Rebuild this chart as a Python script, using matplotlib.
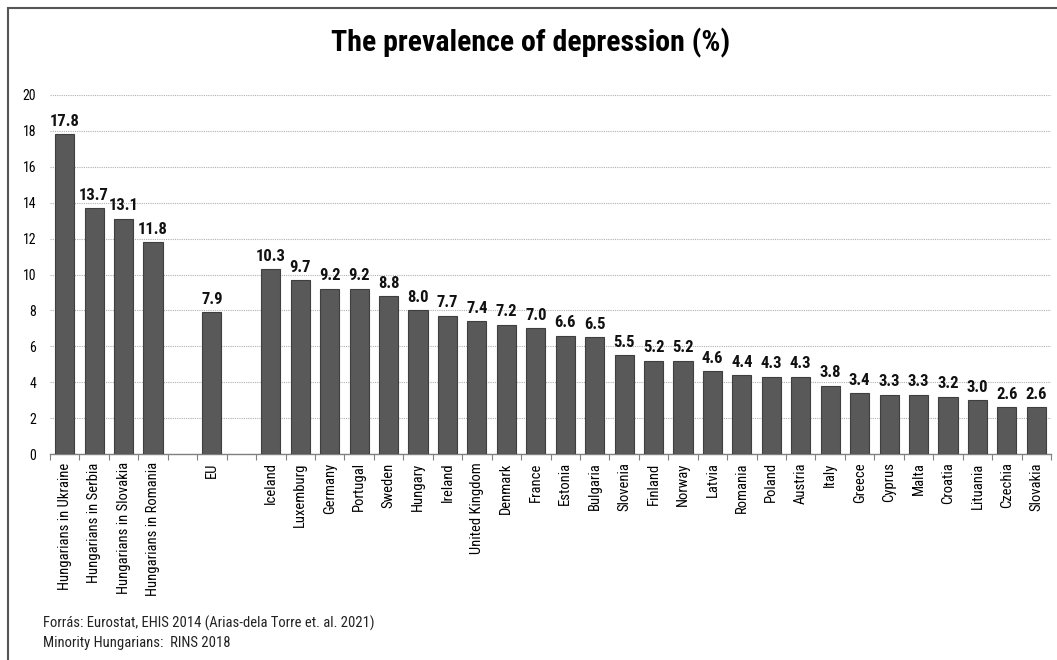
import numpy as np
import matplotlib.pyplot as plt
from matplotlib.patches import Rectangle
from matplotlib.ticker import FixedLocator

plt.rcParams['font.family'] = ['Roboto Condensed', 'DejaVu Sans']

# groups: minority Hungarians, EU average, countries (blank slots separate them)
minority = ['Hungarians in Ukraine', 'Hungarians in Serbia',
            'Hungarians in Slovakia', 'Hungarians in Romania']
minority_vals = [17.8, 13.7, 13.1, 11.8]
eu_label = ['EU']
eu_vals = [7.9]
countries = ['Iceland', 'Luxemburg', 'Germany', 'Portugal', 'Sweden', 'Hungary',
             'Ireland', 'United Kingdom', 'Denmark', 'France', 'Estonia', 'Bulgaria',
             'Slovenia', 'Finland', 'Norway', 'Latvia', 'Romania', 'Poland', 'Austria',
             'Italy', 'Greece', 'Cyprus', 'Malta', 'Croatia', 'Lituania', 'Czechia',
             'Slovakia']
country_vals = [10.3, 9.7, 9.2, 9.2, 8.8, 8.0, 7.7, 7.4, 7.2, 7.0, 6.6, 6.5,
                5.5, 5.2, 5.2, 4.6, 4.4, 4.3, 4.3, 3.8, 3.4, 3.3, 3.3, 3.2,
                3.0, 2.6, 2.6]

labels = minority + [''] + eu_label + [''] + countries
values = minority_vals + [None] + eu_vals + [None] + country_vals
x = np.arange(len(labels))

fig = plt.figure(figsize=(10.57, 6.6), dpi=100)
ax = fig.add_axes([50 / 1057, 1 - 454 / 660, 1001 / 1057, 359 / 660])

bx = [i for i, v in zip(x, values) if v is not None]
bv = [v for v in values if v is not None]
ax.bar(bx, bv, width=0.65, color='#595959', edgecolor='#3f3f3f', linewidth=0.8, zorder=3)

for xi, v in zip(bx, bv):
    ax.text(xi, v + 0.3, f'{v:.1f}', ha='center', va='bottom',
            fontsize=12, fontweight='bold', color='#111111')

ax.set_xlim(-0.5, len(labels) - 0.5)
ax.set_ylim(0, 20)
ax.set_yticks(np.arange(0, 21, 2))
ax.yaxis.grid(True, linestyle=(0, (1, 1)), color='#b0b0b0', linewidth=0.8, zorder=0)
ax.tick_params(axis='y', length=0, labelsize=10, pad=10)

ax.set_xticks(x)
ax.set_xticklabels(labels, rotation=90, fontsize=10.5)
ax.tick_params(axis='x', which='major', length=0, pad=6)
ax.xaxis.set_minor_locator(FixedLocator(np.arange(-0.5, len(labels), 1)))
ax.tick_params(axis='x', which='minor', length=4, color='#808080', width=0.8)

for s in ['top', 'right', 'left']:
    ax.spines[s].set_visible(False)
ax.spines['bottom'].set_color('#808080')
ax.spines['bottom'].set_linewidth(1.0)

fig.text(531 / 1057, 1 - 43 / 660, 'The prevalence of depression (%)',
         ha='center', va='center', fontsize=21.5, fontweight='bold', color='#000000')

fig.text(43 / 1057, 1 - 623 / 660, 'Forrás: Eurostat, EHIS 2014 (Arias-dela Torre et. al. 2021)',
         ha='left', va='center', fontsize=10.5, color='#222222')
fig.text(43 / 1057, 1 - 643 / 660, 'Minority Hungarians:  RINS 2018',
         ha='left', va='center', fontsize=10.5, color='#222222')

# outer frame, cut off at the right and bottom edges
fig.patches.append(Rectangle((7.5 / 1057, -0.05), 1.1, 1 - 7.5 / 660 + 0.05,
                             transform=fig.transFigure, fill=False,
                             edgecolor='#555555', linewidth=1.5))

fig.savefig('out.png', dpi=100)
